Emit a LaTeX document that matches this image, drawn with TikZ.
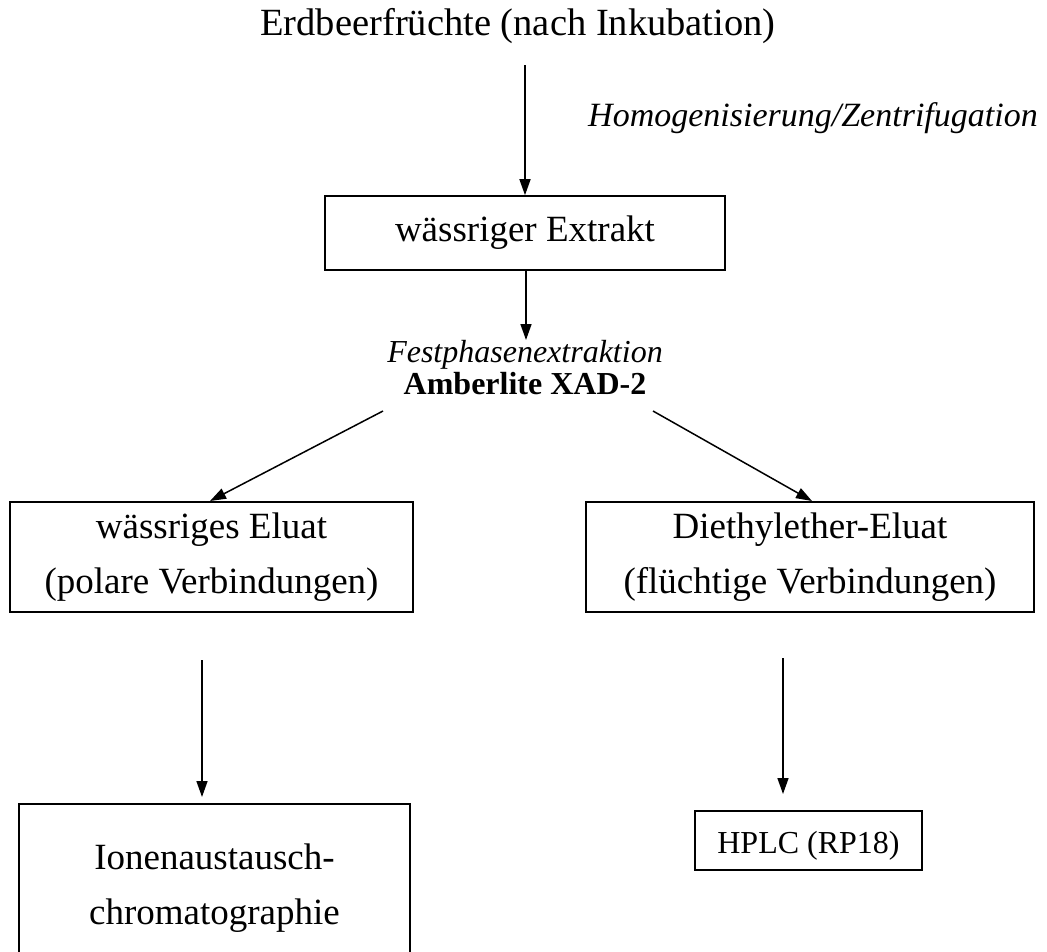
\documentclass[tikz,border=0pt]{standalone}
\usepackage{fontspec}
\setmainfont{Liberation Serif}
\usetikzlibrary{arrows.meta}
\tikzset{
  txt/.style={inner sep=0pt, font=\fontsize{38.5}{44}\selectfont},
  itxt/.style={inner sep=0pt, font=\fontsize{34}{38}\selectfont\itshape},
  sitxt/.style={inner sep=0pt, font=\fontsize{32}{38}\selectfont\itshape},
  btxt/.style={inner sep=0pt, font=\fontsize{32}{38}\selectfont\bfseries},
  box/.style={draw, line width=1.6pt, inner sep=0pt, align=center,
    font=\fontsize{37}{55}\selectfont},
  arr/.style={line width=1.5pt, -{Triangle[length=16pt,width=11pt]}}
}
\begin{document}
\begin{tikzpicture}[x=1pt,y=-1pt]
\useasboundingbox (0,0) rectangle (1047,951);
\clip (0,0) rectangle (1047,951);
% texts
\node[txt] (erd) at (518,26) {Erdbeerfrüchte (nach Inkubation)};
\node[itxt] (hom) at (813,118) {Homogenisierung/Zentrifugation};
\node[sitxt] (fest) at (525,355) {Festphasenextraktion};
\node[btxt] (amb) at (525,384) {Amberlite XAD-2};
% boxes
\node[box, minimum width=400pt, minimum height=74pt] (ext) at (525,233) {wässriger Extrakt};
\node[box, minimum width=403pt, minimum height=110pt] (eluat) at (211.5,557) {wässriges Eluat\\(polare Verbindungen)};
\node[box, minimum width=448pt, minimum height=110pt] (ether) at (810,557) {Diethylether-Eluat\\(flüchtige Verbindungen)};
\node[box, minimum width=391pt, minimum height=168pt] (ionen) at (214.5,888) {Ionenaustausch-\\chromatographie};
\node[draw, line width=1.6pt, minimum width=227pt, minimum height=59pt] (hplc) at (808.5,840.5) {};
\node[inner sep=0pt, anchor=base, font=\fontsize{32}{38}\selectfont] (hplct) at (808.5,853) {HPLC (RP18)};
% free ends of connectors
\coordinate (a1) at (525,65);
\coordinate (a2) at (526,271);
\coordinate (a2e) at (526,340);
\coordinate (a3) at (383,411);
\coordinate (a3e) at (210,501);
\coordinate (a4) at (653,411);
\coordinate (a4e) at (812,501);
\coordinate (a5) at (202,660);
\coordinate (a5e) at (202,797);
\coordinate (a6) at (783,658);
\coordinate (a6e) at (783,794);
% connectors
\draw[arr] (a1) -- (a1 |- ext.north);
\draw[arr] (a2) -- (a2e);
\draw[arr] (a3) -- (a3e);
\draw[arr] (a4) -- (a4e);
\draw[arr] (a5) -- (a5e);
\draw[arr] (a6) -- (a6e);
\end{tikzpicture}
\end{document}
